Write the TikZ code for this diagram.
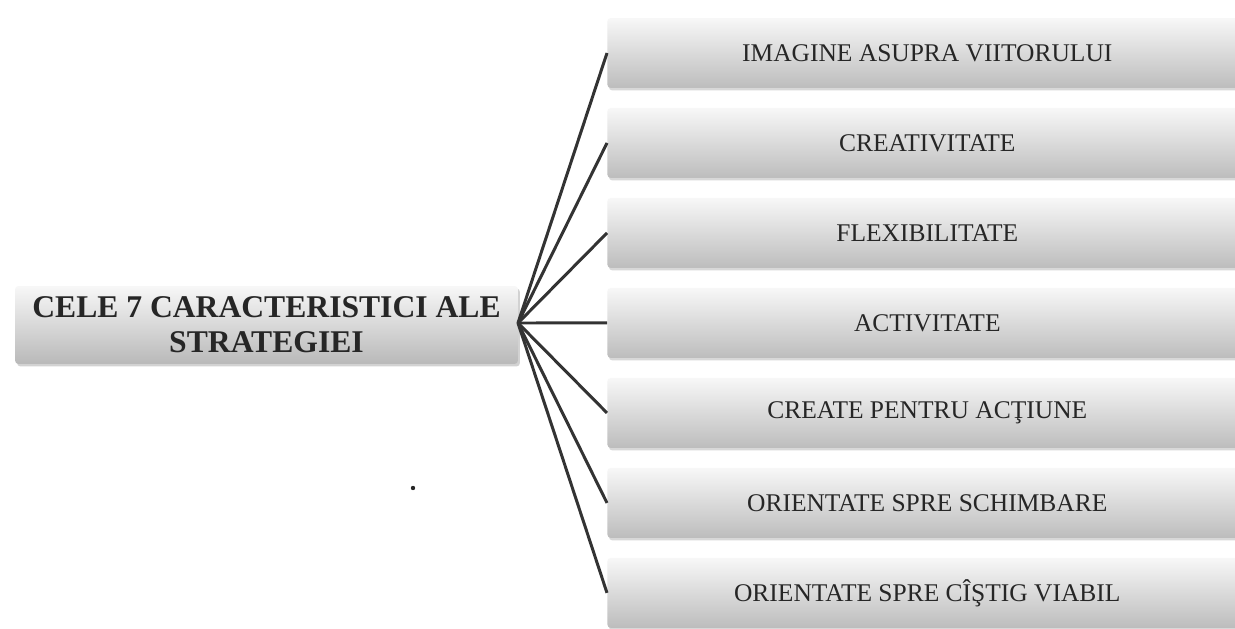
\documentclass[tikz,border=0pt]{standalone}
\usepackage{fontspec}
\setmainfont{Liberation Serif}
\usetikzlibrary{shadows}
\tikzstyle{centre} = [rectangle, rounded corners=2pt, minimum width=10.06cm, minimum height=1.56cm, text centered, align=center, top color=gray!6, bottom color=gray!55, draw=none, drop shadow={opacity=0.35, shadow xshift=0.04cm, shadow yshift=-0.05cm}, font=\fontsize{18}{20}\selectfont\bfseries, text=black!85]
\tikzstyle{trait} = [rectangle, rounded corners=2pt, minimum width=12.8cm, minimum height=1.4cm, text centered, top color=gray!6, bottom color=gray!52, draw=none, drop shadow={opacity=0.3, shadow xshift=0.03cm, shadow yshift=-0.05cm}, font=\fontsize{14.5}{16}\selectfont, text=black!85]
\tikzstyle{link} = [line width=1.7pt, draw=black!80]
\begin{document}
\begin{tikzpicture}[x=0.02cm, y=-0.02cm, node distance=1.8cm]
\useasboundingbox[fill=white] (0,0) rectangle (1235,629);
\node (strategie) [centre] at (266.5,325) {CELE 7 CARACTERISTICI ALE\\STRATEGIEI};
\node (viitor) [trait, anchor=west] at (607,53) {IMAGINE ASUPRA VIITORULUI};
\node (creativ) [trait, below of = viitor]{CREATIVITATE};
\node (flexibil) [trait, below of = creativ]{FLEXIBILITATE};
\node (activ) [trait, below of = flexibil]{ACTIVITATE};
\node (actiune) [trait, below of = activ]{CREATE PENTRU ACŢIUNE};
\node (schimbare) [trait, below of = actiune]{ORIENTATE SPRE SCHIMBARE};
\node (castig) [trait, below of = schimbare]{ORIENTATE SPRE CÎŞTIG VIABIL};
\coordinate (hub) at (518,323);
\draw [link] (hub) -- (viitor.west);
\draw [link] (hub) -- (creativ.west);
\draw [link] (hub) -- (flexibil.west);
\draw [link] (hub) -- (activ.west);
\draw [link] (hub) -- (actiune.west);
\draw [link] (hub) -- (schimbare.west);
\draw [link] (hub) -- (castig.west);
\fill [black!85] (413,488) circle (2.2);
\end{tikzpicture}
\end{document}
